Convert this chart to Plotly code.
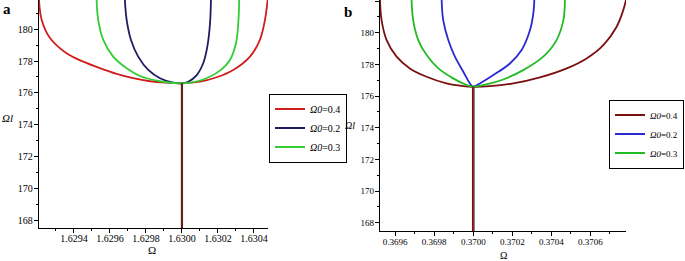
import plotly.graph_objects as go

# ---------------- Panel a data ----------------
a_red_omega = [1.629206, 1.629221, 1.629267, 1.629359, 1.629452, 1.629544, 1.629637, 1.629729,
               1.629822, 1.629915, 1.630000, 1.630100, 1.630193, 1.630285, 1.630378, 1.630433,
               1.630461, 1.630476]
a_red_val = [181.84, 180.58, 179.45, 178.49, 177.96, 177.55, 177.19, 176.92,
             176.73, 176.64, 176.60, 176.70, 176.98, 177.44, 178.28, 179.33,
             180.58, 181.84]

a_blue_omega = [1.629683, 1.629693, 1.629717, 1.629757, 1.629813, 1.629878, 1.629952, 1.630000,
                1.630035, 1.630082, 1.630118, 1.630141, 1.630156, 1.630161]
a_blue_val = [181.84, 180.58, 179.33, 178.28, 177.44, 176.92, 176.64, 176.60,
              176.70, 177.12, 177.86, 178.91, 180.38, 181.84]

a_green_omega = [1.629526, 1.629535, 1.629563, 1.629618, 1.629693, 1.629767, 1.629859, 1.629952,
                 1.630000, 1.630063, 1.630137, 1.630211, 1.630267, 1.630300, 1.630313, 1.630318]
a_green_val = [181.84, 180.58, 179.33, 178.28, 177.55, 177.06, 176.77, 176.62,
               176.60, 176.67, 176.92, 177.40, 178.07, 179.12, 180.38, 181.84]

a_stem_omega = [1.6300, 1.6300]
a_stem_val = [176.60, 167.0]

# ---------------- Panel b data ----------------
b_red_omega = [0.369522, 0.369530, 0.369556, 0.369607, 0.369675, 0.369761, 0.369863, 0.369949,
               0.370000, 0.370085, 0.370205, 0.370342, 0.370479, 0.370581, 0.370667, 0.370735,
               0.370769, 0.370783]
b_red_val = [182.07, 180.80, 179.54, 178.49, 177.75, 177.22, 176.80, 176.63,
             176.59, 176.63, 176.80, 177.18, 177.75, 178.38, 179.22, 180.38,
             181.43, 182.07]

b_blue_omega = [0.369838, 0.369846, 0.369872, 0.369906, 0.369949, 0.369983, 0.370000,
                0.370034, 0.370103, 0.370188, 0.370248, 0.370291, 0.370308, 0.370313]
b_blue_val = [182.07, 180.80, 179.54, 178.49, 177.54, 176.80, 176.59,
              176.80, 177.33, 178.06, 178.91, 180.17, 181.22, 182.07]

b_green_omega = [0.369684, 0.369692, 0.369718, 0.369761, 0.369821, 0.369897, 0.369966, 0.370000,
                 0.370068, 0.370154, 0.370256, 0.370359, 0.370427, 0.370462, 0.370470]
b_green_val = [182.07, 180.80, 179.54, 178.59, 177.75, 177.12, 176.70, 176.59,
               176.74, 177.05, 177.64, 178.49, 179.54, 180.80, 182.07]

b_stem_omega = [0.3700, 0.3700]
b_stem_val = [176.59, 167.0]

legend_labels = ["<i>Ω0</i>=0.4", "<i>Ω0</i>=0.2", "<i>Ω0</i>=0.3"]

W, H = 685, 261
FONT = "Liberation Serif"

fig = go.Figure()

def add_curve(x, y, color, name, xa, ya, legend):
    fig.add_trace(go.Scatter(
        x=x, y=y, mode="lines", name=name, legend=legend,
        line=dict(color=color, width=1.8, shape="spline", smoothing=1.0),
        xaxis=xa, yaxis=ya))

# panel a
add_curve(a_red_omega, a_red_val, "#d01c1c", legend_labels[0], "x", "y", "legend")
add_curve(a_blue_omega, a_blue_val, "#1c1c60", legend_labels[1], "x", "y", "legend")
add_curve(a_green_omega, a_green_val, "#33cc33", legend_labels[2], "x", "y", "legend")
fig.add_trace(go.Scatter(x=a_stem_omega, y=a_stem_val, mode="lines", showlegend=False,
                         line=dict(color="#5e2418", width=2.2), xaxis="x", yaxis="y"))

# panel b
add_curve(b_red_omega, b_red_val, "#7a1010", legend_labels[0], "x2", "y2", "legend2")
add_curve(b_blue_omega, b_blue_val, "#2a2ad0", legend_labels[1], "x2", "y2", "legend2")
add_curve(b_green_omega, b_green_val, "#22bb22", legend_labels[2], "x2", "y2", "legend2")
fig.add_trace(go.Scatter(x=b_stem_omega, y=b_stem_val, mode="lines", showlegend=False,
                         line=dict(color="#202020", width=2.6), xaxis="x2", yaxis="y2"))
fig.add_trace(go.Scatter(x=b_stem_omega, y=b_stem_val, mode="lines", showlegend=False,
                         line=dict(color="#d81818", width=1.2), xaxis="x2", yaxis="y2"))

def px_x(p):
    return p / W

def px_y(p):
    return 1 - p / H

axis_common = dict(showline=True, linecolor="black", linewidth=1.3, ticks="outside",
                   ticklen=4, tickwidth=1, tickcolor="black", showgrid=False, zeroline=False,
                   mirror=False, automargin=False)

fig.update_layout(
    width=W, height=H, margin=dict(l=0, r=0, t=0, b=0, autoexpand=False),
    paper_bgcolor="white", plot_bgcolor="white",
    font=dict(family=FONT, color="black", size=10),
    xaxis=dict(domain=[px_x(39), px_x(268)], range=[1.629206, 1.630478], anchor="y",
               tick0=1.6294, dtick=0.0002, tickformat=".4f", ticklabelstandoff=-3,
               minor=dict(dtick=0.0001, ticklen=2, ticks="outside", tickcolor="black"),
               tickfont=dict(size=10), **axis_common),
    yaxis=dict(domain=[px_y(228), 1], range=[167.5, 181.84], anchor="x",
               tick0=168, dtick=2, ticklabelstandoff=-1,
               minor=dict(dtick=1, ticklen=2, ticks="outside", tickcolor="black"),
               tickfont=dict(size=10), **axis_common),
    xaxis2=dict(domain=[px_x(380), px_x(626)], range=[0.369522, 0.370783], anchor="y2",
                tick0=0.3696, dtick=0.0002, tickformat=".4f", ticklabelstandoff=-2,
                minor=dict(dtick=0.0001, ticklen=2, ticks="outside", tickcolor="black"),
                tickfont=dict(size=9), **axis_common),
    yaxis2=dict(domain=[px_y(231), 1], range=[167.48, 182.07], anchor="x2",
                tick0=168, dtick=2, ticklabelstandoff=-1,
                minor=dict(dtick=1, ticklen=2, ticks="outside", tickcolor="black"),
                tickfont=dict(size=9), **axis_common),
    legend=dict(x=px_x(269), y=px_y(128), xanchor="left", yanchor="middle",
                bordercolor="black", borderwidth=1, bgcolor="white",
                font=dict(size=10, family=FONT), itemwidth=30, tracegroupgap=0),
    legend2=dict(x=px_x(684), y=px_y(134), xanchor="right", yanchor="middle",
                 bordercolor="black", borderwidth=1, bgcolor="white",
                 font=dict(size=9, family=FONT), itemwidth=30, tracegroupgap=0),
    showlegend=True,
)

annotations = [
    dict(text="<b>a</b>", x=px_x(7), y=px_y(9), font=dict(size=15, family=FONT)),
    dict(text="<b>b</b>", x=px_x(348), y=px_y(12), font=dict(size=15, family=FONT)),
    dict(text="<i>Ωl</i>", x=px_x(8), y=px_y(118), font=dict(size=11, family=FONT)),
    dict(text="<i>Ωl</i>", x=px_x(350), y=px_y(125), font=dict(size=10, family=FONT)),
    dict(text="Ω", x=px_x(152), y=px_y(250), font=dict(size=11, family=FONT)),
    dict(text="Ω", x=px_x(503), y=px_y(255), font=dict(size=10, family=FONT)),
]
for a in annotations:
    fig.add_annotation(xref="paper", yref="paper", showarrow=False,
                       xanchor="center", yanchor="middle", **a)

fig.write_html("out.html", config={"displayModeBar": False},
               post_script="document.body.style.margin='0';document.body.style.overflow='hidden';")
